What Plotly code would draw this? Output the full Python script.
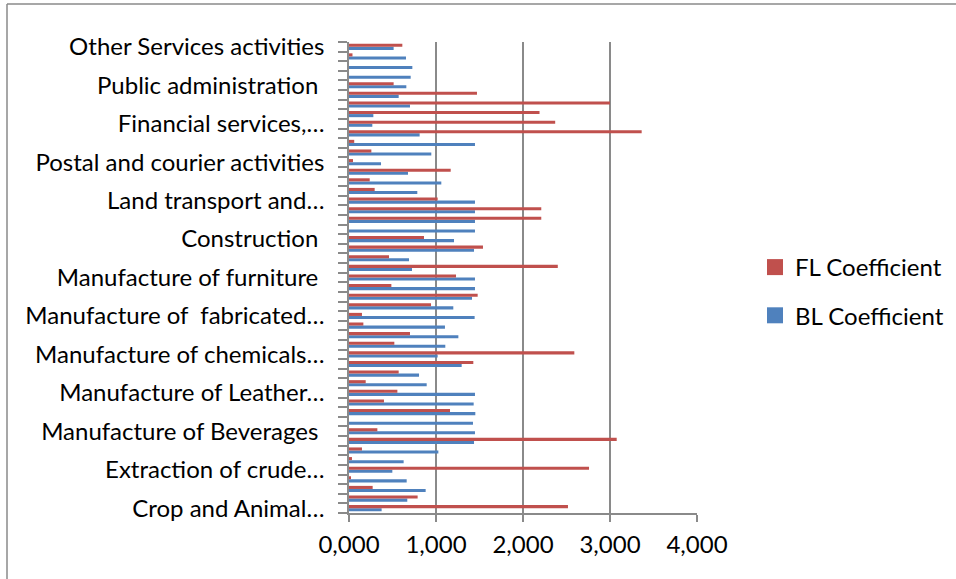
import plotly.graph_objects as go

# Sector rows, bottom to top; only every fourth row carries a visible name
sector_labels = [
    "Crop and Animal…", "", "", "",
    "Extraction of crude…", "", "", "",
    "Manufacture of Beverages\u00a0", "", "", "",
    "Manufacture of Leather…", "", "", "",
    "Manufacture of chemicals…", "", "", "",
    "Manufacture of  fabricated…", "", "", "",
    "Manufacture of furniture\u00a0", "", "", "",
    "Construction\u00a0", "", "", "",
    "Land transport and…", "", "", "",
    "Postal and courier activities", "", "", "",
    "Financial services,…", "", "", "",
    "Public administration\u00a0", "", "", "",
    "Other Services activities",
]

bl_coefficient = [
    0.375, 0.670, 0.881, 0.663, 0.498, 0.628, 1.027, 1.437, 1.448, 1.425,
    1.452, 1.433, 1.448, 0.893, 0.805, 1.295, 1.019, 1.107, 1.257, 1.103,
    1.444, 1.199, 1.414, 1.448, 1.448, 0.724, 0.690, 1.437, 1.207, 1.448,
    1.448, 1.448, 1.448, 0.785, 1.061, 0.678, 0.368, 0.946, 1.448, 0.812,
    0.268, 0.280, 0.701, 0.571, 0.659, 0.709, 0.728, 0.655, 0.513,
]

fl_coefficient = [
    2.517, 0.789, 0.272, 0.019, 2.759, 0.034, 0.149, 3.077, 0.326, 0.000,
    1.161, 0.402, 0.556, 0.192, 0.571, 1.429, 2.590, 0.521, 0.701, 0.165,
    0.149, 0.943, 1.479, 0.487, 1.230, 2.400, 0.460, 1.540, 0.862, 0.000,
    2.210, 2.210, 1.019, 0.295, 0.238, 1.169, 0.046, 0.257, 0.060, 3.364,
    2.370, 2.190, 3.000, 1.471, 0.513, 0.000, 0.000, 0.040, 0.613,
]

x_ticks = [0, 1, 2, 3, 4]

rows = list(range(len(sector_labels)))
labelled_rows = [i for i, s in enumerate(sector_labels) if s]

W, H = 956, 579
ML, MR, MT, MB = 349, 259, 42, 66
PW, PH = W - ML - MR, H - MT - MB

GRAY = "#8a8a8a"
BLUE, RED = "#4F81BD", "#C0504D"
FONT = "Lato, 'Open Sans', sans-serif"
FSIZE = 24


def px_x(px):
    return (px - ML) / PW


def px_y(py):
    return (H - MB - py) / PH


fig = go.Figure()
fig.add_trace(go.Bar(
    y=rows, x=bl_coefficient, orientation="h", name="BL Coefficient",
    marker=dict(color=BLUE, line=dict(width=0)), showlegend=False,
))
fig.add_trace(go.Bar(
    y=rows, x=fl_coefficient, orientation="h", name="FL Coefficient",
    marker=dict(color=RED, line=dict(width=0)), showlegend=False,
))

# Legend entries with larger square swatches (FL listed first)
for name, color, group in [("FL Coefficient", RED, "fl"),
                           ("BL Coefficient", BLUE, "bl")]:
    fig.add_trace(go.Scatter(
        x=[None], y=[None], mode="markers", name=name, legendgroup=group,
        marker=dict(symbol="square", size=16, color=color),
    ))

# Frame lines around the chart area
frame = dict(type="line", xref="paper", yref="paper",
             line=dict(color=GRAY, width=1.5), layer="above")
fig.add_shape(x0=px_x(7), x1=px_x(W), y0=px_y(4), y1=px_y(4), **frame)
fig.add_shape(x0=px_x(7), x1=px_x(7), y0=px_y(4), y1=px_y(H), **frame)

fig.update_layout(
    width=W, height=H,
    margin=dict(l=ML, r=MR, t=MT, b=MB, pad=0, autoexpand=False),
    paper_bgcolor="white", plot_bgcolor="white",
    barmode="group", bargap=0.36, bargroupgap=0,
    separators=", ",
    font=dict(family=FONT, size=FSIZE, color="black"),
    showlegend=True,
    legend=dict(
        x=px_x(755), y=px_y(245), xanchor="left", yanchor="top",
        traceorder="grouped", tracegroupgap=14,
        font=dict(family=FONT, size=FSIZE, color="black"),
        bgcolor="rgba(0,0,0,0)", itemwidth=30,
    ),
    xaxis=dict(
        range=[0, 4], tickvals=x_ticks, tickformat=".3f",
        showgrid=True, gridcolor=GRAY, gridwidth=1.5,
        showline=True, linecolor=GRAY, linewidth=1.5,
        ticks="outside", ticklen=7, tickcolor=GRAY, tickwidth=1.5,
        zeroline=False, ticklabelstandoff=2,
    ),
    yaxis=dict(
        range=[-0.5, len(rows) - 0.5],
        tickvals=labelled_rows,
        ticktext=[sector_labels[i] for i in labelled_rows],
        ticks="", showgrid=False, zeroline=False,
        showline=True, linecolor=GRAY, linewidth=1.5,
        ticklabelstandoff=18,
        minor=dict(tick0=-0.5, dtick=1, ticks="outside", ticklen=9,
                   tickcolor=GRAY, tickwidth=1.5, showgrid=False),
    ),
)

fig.write_html("out.html")
